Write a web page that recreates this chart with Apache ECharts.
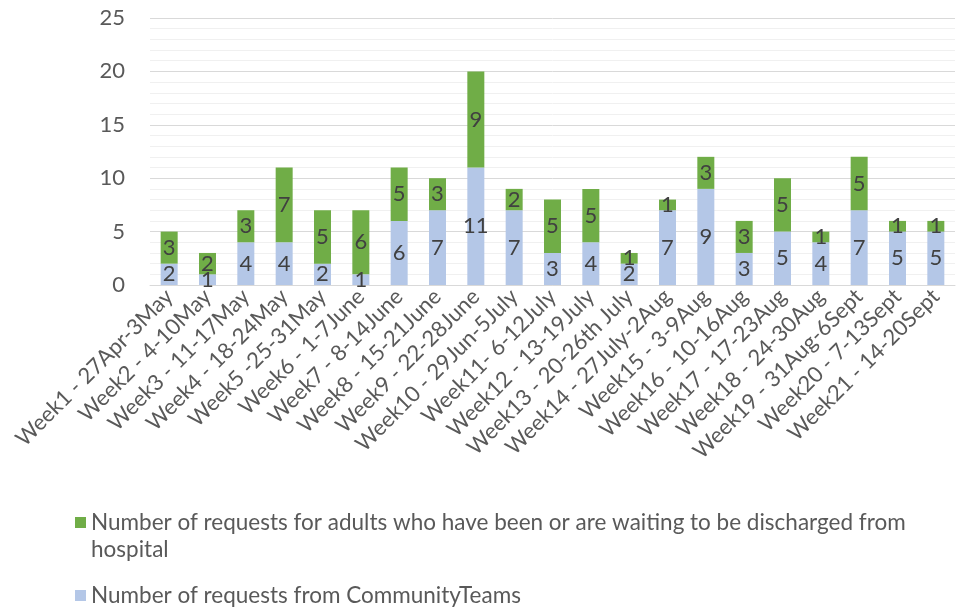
<!DOCTYPE html>
<html>
<head>
<meta charset="utf-8">
<script src="https://cdn.jsdelivr.net/npm/echarts@6/dist/echarts.min.js"></script>
<style>
  html, body { margin: 0; padding: 0; background: #fff; }
  #main { width: 961px; height: 612px; }
</style>
</head>
<body>
<div id="main"></div>
<script>
// categories (week labels)
const weeks = [
  'Week1 - 27Apr-3May', 'Week2 - 4-10May', 'Week3 - 11-17May', 'Week4 - 18-24May',
  'Week5 -25-31May', 'Week6 - 1-7June', 'Week7 - 8-14June', 'Week8 - 15-21June',
  'Week9 - 22-28June', 'Week10 - 29Jun-5July', 'Week11- 6-12July', 'Week12 - 13-19July',
  'Week13 - 20-26th July', 'Week14 - 27July-2Aug', 'Week15 - 3-9Aug', 'Week16 - 10-16Aug',
  'Week17 - 17-23Aug', 'Week18 - 24-30Aug', 'Week19 - 31Aug-6Sept', 'Week20 - 7-13Sept',
  'Week21 - 14-20Sept'
];

// series values
const communityTeams = [2, 1, 4, 4, 2, 1, 6, 7, 11, 7, 3, 4, 2, 7, 9, 3, 5, 4, 7, 5, 5];
const hospitalDischarge = [3, 2, 3, 7, 5, 6, 5, 3, 9, 2, 5, 5, 1, 1, 3, 3, 5, 1, 5, 1, 1];

const hospitalName = 'Number of requests for adults who have been or are waiting to be discharged from hospital';
const communityName = 'Number of requests from CommunityTeams';

const FONT = 'Lato, "Liberation Sans", sans-serif';

const chart = echarts.init(document.getElementById('main'));

const option = {
  animation: false,
  textStyle: { fontFamily: FONT },
  grid: { left: 150, right: 6, top: 18, bottom: 327 },
  legend: [
    {
      data: [hospitalName],
      left: 75,
      top: 482,
      padding: 0,
      itemWidth: 11,
      itemHeight: 11,
      icon: 'rect',
      // blank first line keeps the icon level with the first line of text
      formatter: function (name) {
        return ' \n' + name.replace(' from hospital', ' from\nhospital');
      },
      textStyle: { fontSize: 22.5, color: '#595959', lineHeight: 27, fontFamily: FONT }
    },
    {
      data: [communityName],
      left: 75,
      top: 582,
      padding: 0,
      itemWidth: 11,
      itemHeight: 11,
      icon: 'rect',
      textStyle: { fontSize: 22.5, color: '#595959', lineHeight: 27, fontFamily: FONT }
    }
  ],
  xAxis: {
    type: 'category',
    data: weeks,
    axisTick: { show: false },
    axisLine: { lineStyle: { color: '#d9d9d9', width: 1 } },
    axisLabel: {
      interval: 0,
      rotate: 45,
      margin: 8,
      fontSize: 22,
      color: '#595959',
      fontFamily: FONT
    }
  },
  yAxis: {
    type: 'value',
    min: 0,
    max: 25,
    interval: 5,
    axisLabel: { fontSize: 22, color: '#595959', margin: 25, fontFamily: FONT },
    axisLine: { show: false },
    axisTick: { show: false },
    splitLine: { lineStyle: { color: '#d9d9d9', width: 1 } },
    minorTick: { show: false, splitNumber: 5 },
    minorSplitLine: { show: true, lineStyle: { color: '#f0f0f0', width: 1 } }
  },
  series: [
    {
      name: communityName,
      type: 'bar',
      stack: 'total',
      barWidth: 17,
      itemStyle: { color: '#b4c7e7' },
      label: { show: true, position: 'inside', color: '#404040', fontSize: 22, fontFamily: FONT },
      data: communityTeams
    },
    {
      name: hospitalName,
      type: 'bar',
      stack: 'total',
      barWidth: 17,
      itemStyle: { color: '#70ad47' },
      label: { show: true, position: 'inside', color: '#404040', fontSize: 22, fontFamily: FONT },
      data: hospitalDischarge
    }
  ]
};

chart.setOption(option);
</script>
</body>
</html>
